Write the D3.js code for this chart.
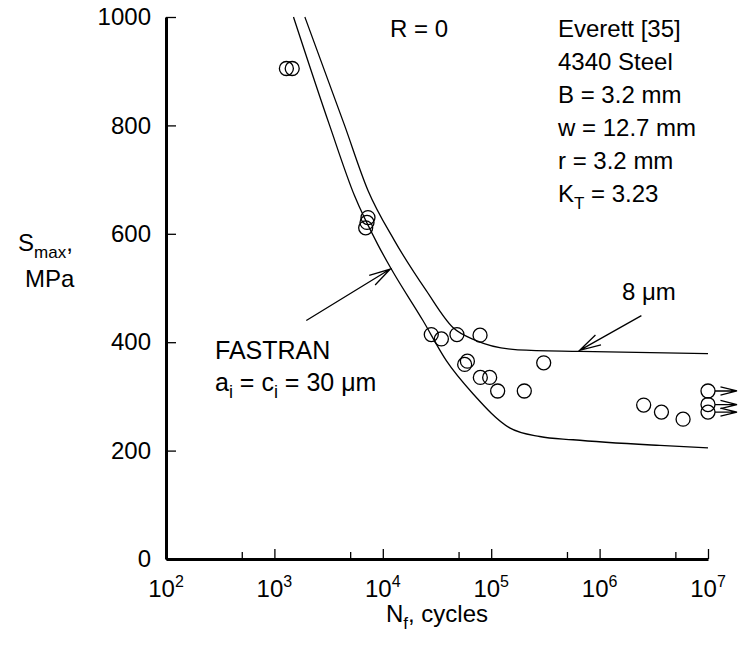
<!DOCTYPE html>
<html>
<head>
<meta charset="utf-8">
<script src="https://cdn.jsdelivr.net/npm/d3@7"></script>
<style>
  body { margin: 0; background: #fff; }
  svg { font-family: "Liberation Sans", Arial, sans-serif; }
</style>
</head>
<body>
<div id="chart"></div>
<script>
// test data, Everett 4340 steel (N in cycles, S in MPa)
const testN = [1290, 1460, 7300, 7150, 6950, 28000, 34700, 48300, 78900, 60300, 56900,
  79400, 96800, 114700, 202000, 305000, 2550000, 3720000, 5890000];
const testS = [905, 905, 630, 621, 611, 414, 406, 414, 413, 365, 359,
  335, 335, 310, 310, 362, 284, 271, 258];
// run-outs at 1e7 cycles
const runoutN = [1e7, 1e7, 1e7];
const runoutS = [310, 285, 271];

// FASTRAN curves
const fastran30N = [1500, 3230, 5490, 9000, 11980, 23450, 38550, 67900, 148000, 280000, 568000, 3590000, 1e7];
const fastran30S = [1000, 800, 670, 580, 535, 440, 366, 305, 242, 226, 220, 209.5, 205];
const fastran8N = [1910, 4440, 7300, 12850, 25200, 44350, 72900, 176000, 655000, 1e7];
const fastran8S = [1000, 800, 680, 587, 495, 427, 403, 386, 383, 379];

// annotation arrows [tailN, tailS, tipN, tipS]
const arrow30 = [1970, 440, 11730, 535];
const arrow8 = [2430000, 449, 655000, 385];

const xTicksMajor = [1e2, 1e3, 1e4, 1e5, 1e6, 1e7];
const xTicksMinor = [5e2, 5e3, 5e4, 5e5, 5e6];
const xTickExp = ['2', '3', '4', '5', '6', '7'];
const yTicks = [0, 200, 400, 600, 800, 1000];

const infoLines = ['Everett [35]', '4340 Steel', 'B = 3.2 mm', 'w = 12.7 mm', 'r = 3.2 mm'];

const width = 738, height = 651;
const margin = { top: 17, right: 30, bottom: 92, left: 166 };
const innerWidth = width - margin.left - margin.right;
const innerHeight = height - margin.top - margin.bottom;

const svg = d3.select('#chart').append('svg')
  .attr('width', width).attr('height', height);
const g = svg.append('g').attr('transform', `translate(${margin.left},${margin.top})`);

const x = d3.scaleLog().domain([1e2, 1e7]).range([0, innerWidth]);
const y = d3.scaleLinear().domain([0, 1000]).range([innerHeight, 0]);

// axes (ticks point inward)
const xAxis = g.append('g').attr('transform', `translate(0,${innerHeight})`)
  .call(d3.axisBottom(x).tickValues(xTicksMajor).tickSize(-10).tickSizeOuter(0).tickFormat(''));
xAxis.select('.domain').attr('stroke-width', 3);
xAxis.selectAll('.tick line').attr('stroke-width', 1.3);
xAxis.selectAll('.tick text').remove();

const xMinor = g.append('g').attr('transform', `translate(0,${innerHeight})`)
  .call(d3.axisBottom(x).tickValues(xTicksMinor).tickSize(-7).tickSizeOuter(0).tickFormat(''));
xMinor.select('.domain').remove();
xMinor.selectAll('.tick line').attr('stroke-width', 1.3);
xMinor.selectAll('.tick text').remove();

const xLab = g.append('g').selectAll('text').data(xTicksMajor).enter().append('text')
  .attr('x', d => x(d))
  .attr('y', innerHeight + 38)
  .attr('text-anchor', 'middle')
  .attr('font-size', 24);
xLab.append('tspan').text('10');
xLab.append('tspan').attr('font-size', 16).attr('dy', -10).text((d, i) => xTickExp[i]);

const yAxis = g.append('g')
  .call(d3.axisLeft(y).tickValues(yTicks).tickSize(-10).tickSizeOuter(0)
    .tickPadding(15).tickFormat(d3.format('d')));
yAxis.select('.domain').attr('stroke-width', 3);
yAxis.selectAll('.tick line').attr('stroke-width', 1.3);
yAxis.selectAll('.tick text').attr('font-size', 24).attr('fill', '#000')
  .attr('font-family', '"Liberation Sans", Arial, sans-serif');

// axis titles
const xt = svg.append('text').attr('x', 437).attr('y', 622)
  .attr('text-anchor', 'middle').attr('font-size', 24);
xt.append('tspan').text('N');
xt.append('tspan').attr('font-size', 17).attr('dy', 7).text('f');
xt.append('tspan').attr('dy', -7).text(', cycles');

const yt = svg.append('text').attr('x', 18).attr('y', 251).attr('font-size', 24);
yt.append('tspan').text('S');
yt.append('tspan').attr('font-size', 17).attr('dy', 7).text('max');
yt.append('tspan').attr('dy', -7).text(',');
svg.append('text').attr('x', 25).attr('y', 287).attr('font-size', 24).text('MPa');

// FASTRAN curves
const line = d3.line().x(d => x(d[0])).y(d => y(d[1])).curve(d3.curveMonotoneX);
g.append('path').datum(d3.zip(fastran30N, fastran30S))
  .attr('d', line).attr('fill', 'none').attr('stroke', '#000').attr('stroke-width', 1.3);
g.append('path').datum(d3.zip(fastran8N, fastran8S))
  .attr('d', line).attr('fill', 'none').attr('stroke', '#000').attr('stroke-width', 1.3);

// test points
const r = 7;
g.selectAll('.pt').data(d3.zip(testN.concat(runoutN), testS.concat(runoutS))).enter()
  .append('circle').attr('class', 'pt')
  .attr('cx', d => x(d[0])).attr('cy', d => y(d[1])).attr('r', r)
  .attr('fill', 'none').attr('stroke', '#000').attr('stroke-width', 1.3);

// open chevron arrow helper (pixel coords)
function drawArrow(x1, y1, x2, y2, headLen, headAng) {
  const a = Math.atan2(y2 - y1, x2 - x1);
  const p = d3.path();
  p.moveTo(x1, y1); p.lineTo(x2, y2);
  p.moveTo(x2 - headLen * Math.cos(a - headAng), y2 - headLen * Math.sin(a - headAng));
  p.lineTo(x2, y2);
  p.lineTo(x2 - headLen * Math.cos(a + headAng), y2 - headLen * Math.sin(a + headAng));
  g.append('path').attr('d', p.toString()).attr('fill', 'none')
    .attr('stroke', '#000').attr('stroke-width', 1.3);
}

runoutN.forEach((n, i) => {
  drawArrow(x(n) + r, y(runoutS[i]), x(n) + 29, y(runoutS[i]), 17, 0.24);
});
drawArrow(x(arrow30[0]), y(arrow30[1]), x(arrow30[2]), y(arrow30[3]), 22, 0.26);
drawArrow(x(arrow8[0]), y(arrow8[1]), x(arrow8[2]), y(arrow8[3]), 22, 0.26);

// labels
svg.append('text').attr('x', 390).attr('y', 37).attr('font-size', 24).text('R = 0');
svg.selectAll('.info').data(infoLines).enter().append('text').attr('class', 'info')
  .attr('x', 558).attr('y', (d, i) => 37 + i * 33).attr('font-size', 24).text(d => d);
const kt = svg.append('text').attr('x', 558).attr('y', 37 + 5 * 33).attr('font-size', 24);
kt.append('tspan').text('K');
kt.append('tspan').attr('font-size', 17).attr('dy', 7).text('T');
kt.append('tspan').attr('dy', -7).text(' = 3.23');

svg.append('text').attr('x', 622).attr('y', 300).attr('font-size', 24).text('8 \u03bcm');
svg.append('text').attr('x', 215).attr('y', 359).attr('font-size', 25).text('FASTRAN');
const ai = svg.append('text').attr('x', 215).attr('y', 391).attr('font-size', 25);
ai.append('tspan').text('a');
ai.append('tspan').attr('font-size', 18).attr('dy', 7).text('i');
ai.append('tspan').attr('dy', -7).text(' = c');
ai.append('tspan').attr('font-size', 18).attr('dy', 7).text('i');
ai.append('tspan').attr('dy', -7).text(' = 30 \u03bcm');
</script>
</body>
</html>
